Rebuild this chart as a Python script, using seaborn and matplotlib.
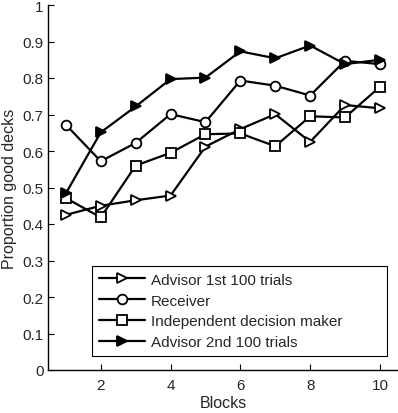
import matplotlib
matplotlib.use("Agg")
import matplotlib.pyplot as plt
import seaborn as sns
import pandas as pd

blocks = [1, 2, 3, 4, 5, 6, 7, 8, 9, 10]
advisor_1st = [0.425, 0.450, 0.465, 0.478, 0.612, 0.660, 0.701, 0.625, 0.726, 0.717]
receiver = [0.672, 0.572, 0.622, 0.701, 0.679, 0.793, 0.779, 0.752, 0.847, 0.838]
independent = [0.471, 0.418, 0.560, 0.595, 0.646, 0.648, 0.613, 0.695, 0.692, 0.776]
advisor_2nd = [0.484, 0.651, 0.722, 0.797, 0.801, 0.873, 0.854, 0.889, 0.838, 0.850]
series_names = ["Advisor 1st 100 trials", "Receiver", "Independent decision maker", "Advisor 2nd 100 trials"]
y_ticks = [0, 0.1, 0.2, 0.3, 0.4, 0.5, 0.6, 0.7, 0.8, 0.9, 1]
x_ticks = [2, 4, 6, 8, 10]

sns.set_style("white")
plt.rcParams['font.family'] = ['Liberation Sans', 'DejaVu Sans']

fig = plt.figure(figsize=(3.98, 4.14), dpi=100)
ax = fig.add_axes([48.4 / 398, 43 / 414, 349 / 398, 365 / 414])

styles = [
    dict(marker='>', markerfacecolor='white'),
    dict(marker='o', markerfacecolor='white'),
    dict(marker='s', markerfacecolor='white'),
    dict(marker='>', markerfacecolor='black'),
]
all_vals = [advisor_1st, receiver, independent, advisor_2nd]
for name, vals, st in zip(series_names, all_vals, styles):
    df = pd.DataFrame({"Blocks": blocks, "value": vals})
    sns.lineplot(data=df, x="Blocks", y="value", ax=ax, color='black', linewidth=1.6,
                 markersize=7, markeredgecolor='black', markeredgewidth=1.3,
                 label=name, **st)

ax.set_xlim(0.5, 10.5)
ax.set_ylim(0, 1)
ax.set_xticks(x_ticks)
ax.set_yticks(y_ticks)
ax.set_yticklabels(["0", "0.1", "0.2", "0.3", "0.4", "0.5", "0.6", "0.7", "0.8", "0.9", "1"])
ax.tick_params(direction='in', length=4, labelsize=11, color='black', left=True, bottom=True)
ax.tick_params(axis='x', pad=6)
for s in ['top', 'right']:
    ax.spines[s].set_visible(False)
for s in ['left', 'bottom']:
    ax.spines[s].set_color('black')
    ax.spines[s].set_linewidth(1.0)
ax.set_xlabel("Blocks", fontsize=11.5, labelpad=2)
ax.set_ylabel("Proportion good decks", fontsize=11.5, labelpad=4)

leg = ax.legend(loc='lower left', bbox_to_anchor=(0.125, 0.038, 0.845, 0.255), mode='expand',
                borderaxespad=0, fancybox=False, edgecolor='black', framealpha=1, fontsize=11,
                handlelength=3.0, labelspacing=0.45, handletextpad=0.4, borderpad=0.45)
leg.get_frame().set_linewidth(0.8)

fig.savefig("out.png", dpi=100)
